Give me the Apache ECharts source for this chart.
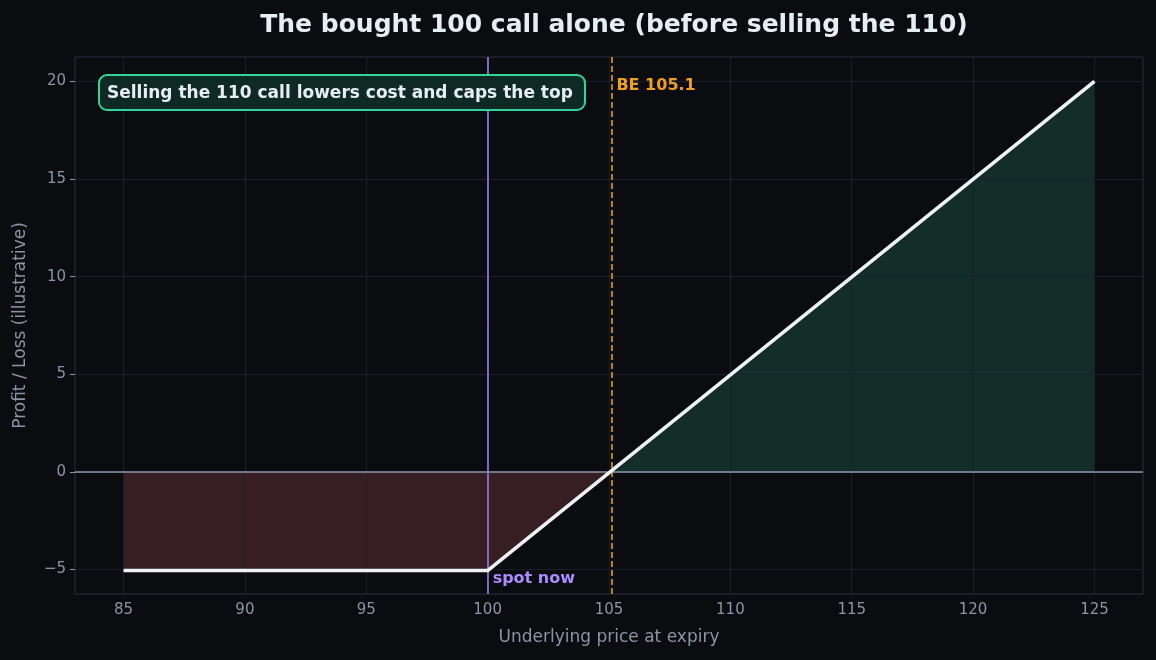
<!DOCTYPE html>
<html>
<head>
<meta charset="utf-8">
<script src="https://cdn.jsdelivr.net/npm/echarts@6/dist/echarts.min.js"></script>
<style>
  html, body { margin: 0; padding: 0; background: #0b0c10; }
  #chart { width: 1156px; height: 660px; }
</style>
</head>
<body>
<div id="chart"></div>
<script>
// payoff of the long 100 call on its own
const strike = 100;
const breakEven = 105.1;
const lossPart = [[85, -5.05], [100, -5.05], [105.05, 0]];
const gainPart = [[105.05, 0], [125, 20]];
const payoff = [[85, -5.05], [100, -5.05], [125, 20]];
const xTicks = [85, 90, 95, 100, 105, 110, 115, 120, 125];
const yTicks = [-5, 0, 5, 10, 15, 20];

const font = 'DejaVu Sans';
const gridColor = '#18202a';
const tickColor = '#8b95a5';

let myChart = echarts.init(document.getElementById('chart'));

let option = {
  backgroundColor: '#0b0c10',
  animation: false,
  textStyle: { fontFamily: font },
  title: {
    text: 'The bought 100 call alone (before selling the 110)',
    left: 609,
    textAlign: 'center',
    top: 8,
    textStyle: { color: '#e6edf3', fontSize: 25, fontWeight: 'bold', fontFamily: font }
  },
  grid: {
    left: 75, right: 13, top: 57, bottom: 66,
    show: true, borderColor: '#28313c', borderWidth: 1, backgroundColor: '#0b0c10'
  },
  xAxis: {
    type: 'value',
    min: 83, max: 127,
    name: 'Underlying price at expiry',
    nameLocation: 'middle',
    nameGap: 35,
    nameTextStyle: { color: tickColor, fontSize: 17 },
    axisLine: { show: false },
    axisTick: { show: true, customValues: xTicks, length: 5, lineStyle: { color: tickColor } },
    axisLabel: { customValues: xTicks, color: tickColor, fontSize: 15, margin: 9 },
    splitLine: { show: false }
  },
  yAxis: {
    type: 'value',
    min: -6.25, max: 21.25,
    name: 'Profit / Loss (illustrative)',
    nameLocation: 'middle',
    nameGap: 46,
    nameTextStyle: { color: tickColor, fontSize: 17 },
    axisLine: { show: false },
    axisTick: { show: true, customValues: yTicks, length: 5, lineStyle: { color: tickColor } },
    axisLabel: {
      customValues: yTicks, color: tickColor, fontSize: 15, margin: 9,
      formatter: (v) => (v < 0 ? '\u2212' + Math.abs(v) : String(v))
    },
    splitLine: { show: false }
  },
  series: [
    {
      // grid lines
      type: 'line',
      data: [],
      silent: true,
      z: 1,
      markLine: {
        symbol: 'none',
        silent: true,
        label: { show: false },
        lineStyle: { color: gridColor, type: 'solid', width: 1 },
        data: xTicks.map((v) => ({ xAxis: v })).concat(yTicks.map((v) => ({ yAxis: v })))
      }
    },
    {
      name: 'loss',
      type: 'line',
      data: lossPart,
      symbol: 'none',
      lineStyle: { width: 0 },
      areaStyle: { color: '#361e22', opacity: 1 },
      z: 2
    },
    {
      name: 'gain',
      type: 'line',
      data: gainPart,
      symbol: 'none',
      lineStyle: { width: 0 },
      areaStyle: { color: '#132e28', opacity: 1 },
      z: 2
    },
    {
      // zero line, spot and break-even markers
      type: 'line',
      data: [],
      markLine: {
        symbol: 'none',
        silent: true,
        label: { show: false },
        data: [
          { yAxis: 0, lineStyle: { color: '#8f99a8', type: 'solid', width: 1.5 } },
          { xAxis: strike, lineStyle: { color: '#8b72d8', type: 'solid', width: 1.8 } },
          { xAxis: breakEven, lineStyle: { color: '#e89a17', type: [6, 3], width: 1.6 } }
        ]
      },
      z: 3
    },
    {
      name: 'payoff',
      type: 'line',
      data: payoff,
      symbol: 'none',
      lineStyle: { color: '#eef1f5', width: 3.6 },
      z: 5,
      markPoint: {
        symbol: 'circle',
        symbolSize: 0,
        data: [
          {
            coord: [breakEven, 19.75],
            label: {
              show: true, position: 'right', distance: 5, formatter: 'BE 105.1',
              color: '#f0a01c', fontWeight: 'bold', fontSize: 16, fontFamily: font
            }
          },
          {
            coord: [strike, -5.45],
            label: {
              show: true, position: 'right', distance: 5, formatter: 'spot now',
              color: '#a98bff', fontWeight: 'bold', fontSize: 16, fontFamily: font
            }
          }
        ]
      }
    }
  ],
  graphic: [
    {
      type: 'rect',
      left: 98, top: 74,
      z: 100,
      shape: { width: 486, height: 35, r: 8 },
      style: { fill: '#0f2a24', stroke: '#34d399', lineWidth: 2 }
    },
    {
      type: 'text',
      left: 107, top: 85,
      z: 101,
      style: {
        text: 'Selling the 110 call lowers cost and caps the top',
        fill: '#e6edf3', font: 'bold 17px "DejaVu Sans"'
      }
    }
  ]
};

myChart.setOption(option);
</script>
</body>
</html>
